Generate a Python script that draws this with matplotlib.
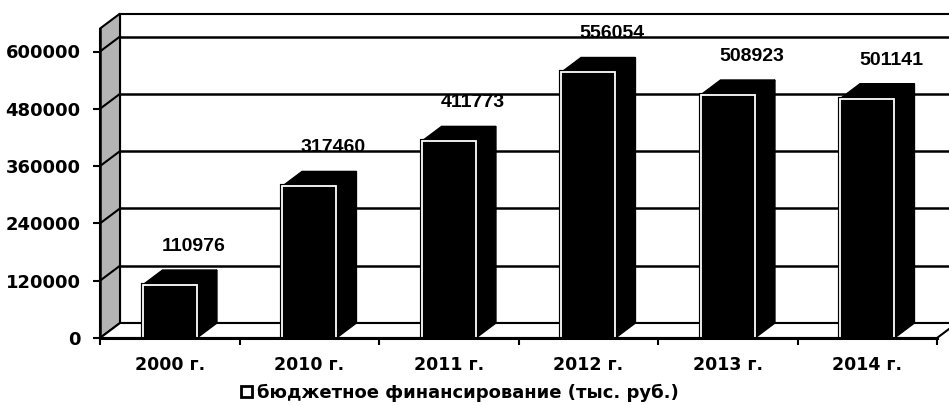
import matplotlib

matplotlib.use("Agg")
import matplotlib.pyplot as plt
import numpy as np
from matplotlib.patches import Patch, Polygon, Rectangle

# data
years = ["2000 г.", "2010 г.", "2011 г.", "2012 г.", "2013 г.", "2014 г."]
budget = [110976, 317460, 411773, 556054, 508923, 501141]
y_ticks = [0, 120000, 240000, 360000, 480000, 600000]
legend_label = "бюджетное финансирование (тыс. руб.)"

W, H = 949, 405
fig = plt.figure(figsize=(W / 100, H / 100), dpi=100)
fig.patch.set_facecolor("white")

# front plane of the 3-D box: x from 100 to 937 px, value 0 at 338 px
ax = fig.add_axes([100 / W, 67 / H, 837 / W, 286.5 / H])
ax.set_xlim(-0.5, len(years) - 0.5)
ax.set_ylim(0, 600000)
ax.patch.set_visible(False)
for side in ("top", "right", "bottom", "left"):
    ax.spines[side].set_visible(False)

dx = 0.1434      # depth offset, category units
dy = 31400       # depth offset, value units
top = 648000     # top of the walls
bar_w = 0.39
x0, x1 = -0.5, len(years) - 0.5

# left side wall
ax.add_patch(Polygon([(x0, 0), (x0 + dx, dy), (x0 + dx, top + dy), (x0, top)],
                     closed=True, facecolor="#b4b4b4", edgecolor="black",
                     linewidth=1.5, clip_on=False, zorder=1))
# back wall
ax.add_patch(Rectangle((x0 + dx, dy), x1 - x0 + 0.5, top, facecolor="white",
                       edgecolor="black", linewidth=1.5, clip_on=False, zorder=0.5))
# floor
ax.add_patch(Polygon([(x0, 0), (x1, 0), (x1 + dx, dy), (x0 + dx, dy)],
                     closed=True, facecolor="white", edgecolor="black",
                     linewidth=1.5, clip_on=False, zorder=1))

# gridlines on back and side walls
for v in y_ticks[1:]:
    ax.plot([x0 + dx, x1 + 0.5], [v + dy, v + dy], color="black", lw=1.8,
            clip_on=False, zorder=1.2)
    ax.plot([x0, x0 + dx], [v, v + dy], color="black", lw=1.5,
            clip_on=False, zorder=1.2)

# 3-D columns
xs = np.arange(len(years))
for x, v in zip(xs, budget):
    l, r = x - bar_w / 2, x + bar_w / 2
    side = Polygon([(r, 0), (r + dx, dy), (r + dx, v + dy), (r, v)], closed=True,
                   facecolor="black", edgecolor="black", lw=1, zorder=3)
    roof = Polygon([(l, v), (l + dx, v + dy), (r + dx, v + dy), (r, v)], closed=True,
                   facecolor="black", edgecolor="black", lw=1, zorder=3)
    ax.add_patch(side)
    ax.add_patch(roof)
    ax.add_patch(Rectangle((l, 0), bar_w, v, facecolor="black", edgecolor="black",
                           lw=3, zorder=3.5))
    ax.add_patch(Rectangle((l, 0), bar_w, v, facecolor="black", edgecolor="white",
                           lw=1.3, zorder=4))
    ax.annotate(f"{v}", (x + dx, v + dy), xytext=(3, 17), textcoords="offset points",
                ha="center", va="center", fontsize=14, fontweight="bold",
                family="Liberation Sans", zorder=5, annotation_clip=False)

# front axis lines
ax.plot([x0, x0], [0, top], color="black", lw=1.8, clip_on=False, zorder=2)
ax.plot([x0, x1], [0, 0], color="black", lw=2.2, clip_on=False, zorder=4.5)

ax.set_yticks(y_ticks)
ax.set_yticklabels([f"{t}" for t in y_ticks], fontsize=13, fontweight="bold",
                   family="DejaVu Sans")
ax.tick_params(axis="y", length=5, width=1.5, pad=9, direction="out")

ax.set_xticks(np.arange(len(years) + 1) - 0.5)
ax.set_xticklabels([])
ax.set_xticks(xs, minor=True)
ax.set_xticklabels(years, minor=True, fontsize=12.5, fontweight="bold",
                   family="DejaVu Sans")
ax.tick_params(axis="x", which="major", length=5, width=1.5, direction="out")
ax.tick_params(axis="x", which="minor", length=0, pad=13)

handle = Patch(facecolor="white", edgecolor="black", linewidth=2)
fig.legend([handle], [legend_label], loc="center", bbox_to_anchor=(460 / W, 1 - 393 / H),
           frameon=False, handlelength=0.6, handleheight=0.6, handletextpad=0.25,
           prop={"family": "DejaVu Sans", "weight": "bold", "size": 13})

fig.savefig("out.png", dpi=100)
